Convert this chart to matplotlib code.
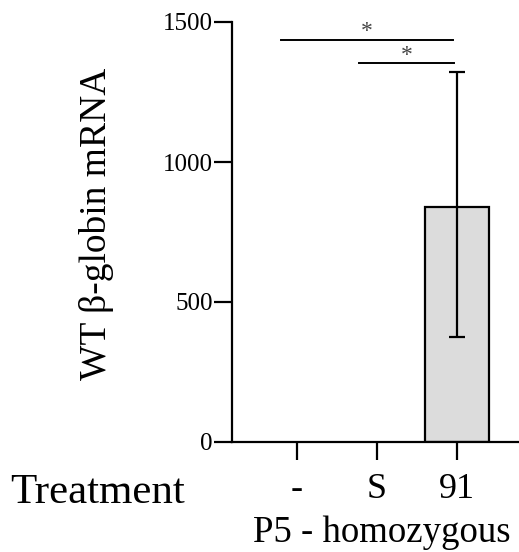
import numpy as np
import matplotlib.pyplot as plt

plt.rcParams['font.family'] = ['Liberation Serif', 'DejaVu Serif']

groups = ['-', 'S', '91']
means = [0, 0, 840]
err_low = [0, 0, 375]
err_high = [0, 0, 1320]
yticks = [0, 500, 1000, 1500]

# significance brackets: (x start, x end, y, label)
sig = [(-0.2, 1.95, 1436, '*'), (0.78, 1.97, 1352, '*')]

fig = plt.figure(figsize=(5.19, 5.52), dpi=100)
ax = fig.add_axes([232/519, 110/552, 287/519, 420/552])

x = np.arange(len(groups))
m = np.array(means)
ax.bar(x, m, width=0.8, color='#dcdcdc', edgecolor='black',
       linewidth=[1.6 if v > 0 else 0 for v in m], zorder=2)

lo = m - np.array(err_low)
hi = np.array(err_high) - m
idx = m > 0
ax.errorbar(x[idx], m[idx], yerr=[lo[idx], hi[idx]], fmt='none', ecolor='black',
            elinewidth=1.6, capsize=6, capthick=1.6, zorder=3)

for x0, x1, y, s in sig:
    ax.plot([x0, x1], [y, y], color='black', lw=1.4, clip_on=False)
    ax.text((x0 + x1) / 2, y - 8, s, ha='center', va='bottom', fontsize=17, color='#444444')

ax.set_xlim(-0.81, 2.78)
ax.set_ylim(0, 1500)
ax.set_yticks(yticks)
ax.set_xticks(x)
ax.set_xticklabels(groups)

for side in ['top', 'right']:
    ax.spines[side].set_visible(False)
for side in ['left', 'bottom']:
    ax.spines[side].set_linewidth(1.6)

ax.tick_params(axis='y', length=13, width=1.6, labelsize=18, pad=1)
ax.tick_params(axis='x', length=13, width=1.6, labelsize=26, pad=9)

ax.set_ylabel('WT β-globin mRNA', fontsize=27)
ax.yaxis.set_label_coords(-0.41, 0.52)

fig.text(10/519, 49/552, 'Treatment', fontsize=31, va='baseline', ha='left')
fig.text(382/519, 10/552, 'P5 - homozygous', fontsize=26.5, va='baseline', ha='center')

fig.savefig('out.png', dpi=100)
